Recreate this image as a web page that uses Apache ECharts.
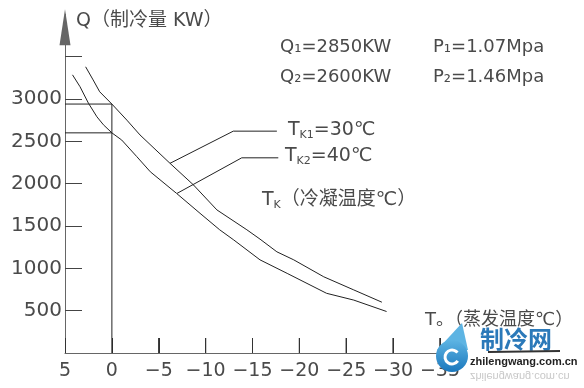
<!DOCTYPE html>
<html><head><meta charset="utf-8">
<script src="https://cdn.jsdelivr.net/npm/echarts@6/dist/echarts.min.js"></script>
<style>html,body{margin:0;padding:0;background:#fff}#c{width:584px;height:388px}</style>
</head><body><div id="c"></div>
<script>
// Evaporating temperature (°C) vs cooling capacity Q (KW)
const curveTk1 = [[2.8,3380],[2.0,3225],[1.3,3085],[0,2940],[-1.6,2750],[-3,2575],[-6.2,2240],[-8.7,1985],[-11.2,1690],[-14.4,1455],[-15.8,1345],[-17.6,1195],[-19.4,1100],[-22.6,900],[-25.8,745],[-28.8,600]];
const curveTk2 = [[4.2,3285],[3.4,3145],[2.5,2950],[1.6,2790],[0.9,2695],[0,2600],[-1.05,2515],[-2.65,2320],[-4.1,2140],[-6.9,1885],[-9.4,1650],[-11.5,1455],[-13,1335],[-15.8,1100],[-18.7,940],[-22.9,705],[-25.8,625],[-29.3,490]];
const refQ1 = [[5,2940],[0,2940],[0,0]];
const refQ2 = [[5,2600],[0,2600]];
const leaderTk1 = [[-6.2,2240],[-12.95,2620],[-17.6,2620]];
const leaderTk2 = [[-6.95,1885],[-13.85,2305],[-17.75,2305]];
const xTickValues = [-5,-10,-15,-20,-25,-30,-35];
const xLabelValues = [5,0,-5,-10,-15,-20,-25,-30,-35];
const yTickValues = [500,1000,1500,2000,2500,3000,3500];
const yLabelValues = [500,1000,1500,2000,2500,3000];

const FF = 'DejaVu Sans, Noto Sans CJK SC, sans-serif';
const TXT = '#4a4a4a';
const chart = echarts.init(document.getElementById('c'), null, {renderer:'canvas'});
// the temperature axis runs from +5 on the left to -35 on the right: plotted as -T
const flip = (pts) => pts.map(p => [-p[0], p[1]]);
const lineSeries = (data, color) => ({type:'line', data:flip(data), symbol:'none', showSymbol:false, silent:true,
  lineStyle:{color:color || '#222', width:1}, animation:false});

const tk = (sub, rest) => ({
  text: '{t|T}{s|' + sub + '}{t|' + rest + '}',
  rich: {
    t: {fontSize:19, fontFamily:FF, fill:TXT, lineHeight:22},
    s: {fontSize:11, fontFamily:FF, fill:TXT, lineHeight:15, verticalAlign:'bottom'}
  },
  fill: TXT, align:'left', verticalAlign:'middle', textAlign:'left', textVerticalAlign:'middle'
});

const baseSeries = () => [lineSeries(curveTk1), lineSeries(curveTk2), lineSeries(refQ1), lineSeries(refQ2),
  lineSeries(leaderTk1), lineSeries(leaderTk2)];

chart.setOption({
  animation:false,
  backgroundColor:'#fff',
  grid:{left:65, right:144, top:14.3, bottom:35, containLabel:false, outerBoundsMode:'none'},
  xAxis:{type:'value', min:-5, max:35, interval:5,
    axisLine:{show:true, onZero:false, lineStyle:{color:'#666', width:1}},
    axisTick:{show:true, inside:true, length:15, lineStyle:{color:'#333', width:1}},
    axisLabel:{customValues:xLabelValues.map(v => -v), margin:9, fontSize:19, fontFamily:FF, color:TXT,
      formatter:v => v > 0 ? '−' + v : String(-v)},
    splitLine:{show:false}},
  yAxis:{type:'value', min:0, max:4000, interval:500,
    axisLine:{show:true, onZero:false, lineStyle:{color:'#666', width:1},
      symbol:['none','triangle'], symbolSize:[11,36], symbolOffset:[0,-13]},
    axisTick:{show:true, inside:true, length:17, customValues:yTickValues, lineStyle:{color:'#444'}},
    axisLabel:{customValues:yLabelValues, margin:3, fontSize:20, fontFamily:FF, color:TXT,
      formatter:v => String(v)},
    splitLine:{show:false}},
  series:baseSeries(),
  graphic:[
    {type:'text', x:76, y:21, style:{text:'Q（制冷量 KW）', fontSize:19, fontFamily:FF, fill:TXT, verticalAlign:'middle', textVerticalAlign:'middle'}},
    {type:'text', x:280, y:47, style:{text:'Q₁=2850KW', fontSize:18, fontFamily:FF, fill:TXT, verticalAlign:'middle', textVerticalAlign:'middle'}},
    {type:'text', x:433, y:47, style:{text:'P₁=1.07Mpa', fontSize:18, fontFamily:FF, fill:TXT, verticalAlign:'middle', textVerticalAlign:'middle'}},
    {type:'text', x:280, y:77, style:{text:'Q₂=2600KW', fontSize:18, fontFamily:FF, fill:TXT, verticalAlign:'middle', textVerticalAlign:'middle'}},
    {type:'text', x:433, y:77, style:{text:'P₂=1.46Mpa', fontSize:18, fontFamily:FF, fill:TXT, verticalAlign:'middle', textVerticalAlign:'middle'}},
    {type:'text', x:288, y:130, style:tk('K1', '=30℃')},
    {type:'text', x:285, y:156, style:tk('K2', '=40℃')},
    {type:'text', x:262, y:200, style:tk('K', '（冷凝温度℃）')},
    {type:'text', x:425, y:320, style:{text:'T。（蒸发温度℃）', fontSize:18, fontFamily:FF, fill:TXT, verticalAlign:'middle', textVerticalAlign:'middle'}},
    // watermark logo
    {type:'polygon', z:100, shape:{points:[[462,323],[437,350],[468,350]]}, style:{fill:'#5db4e3'}},
    {type:'circle', z:100, shape:{cx:452, cy:356, r:16},
      style:{fill:new echarts.graphic.LinearGradient(0,0,0,1,[{offset:0,color:'#5db4e3'},{offset:1,color:'#1b78bd'}])}},
    {type:'arc', z:101, shape:{cx:452, cy:357, r:7, startAngle:0.6, endAngle:5.6}, style:{stroke:'#fff', lineWidth:3, fill:null}},
    {type:'text', z:101, x:480, y:339, style:{text:'制冷网', fontSize:24, fontWeight:'bold', fontFamily:'Noto Sans CJK SC', fill:'#2b79b9', verticalAlign:'middle', textVerticalAlign:'middle'}},
    {type:'line', z:101, shape:{x1:488, y1:352, x2:560, y2:351}, style:{stroke:'#333', lineWidth:2}},
    {type:'text', z:101, x:470, y:362, style:{text:'zhilengwang.com.cn', fontSize:11, fontWeight:'bold', fontFamily:'Liberation Sans', fill:'#222', verticalAlign:'middle', textVerticalAlign:'middle'}},
    {type:'text', z:100, x:470, y:376, scaleY:-1, style:{text:'zhilengwang.com.cn', fontSize:11, fontFamily:'Liberation Sans', fill:'#c8c8c8', verticalAlign:'middle', textVerticalAlign:'middle'}}
  ]
});

// x-axis tick marks pointing up from the axis, 15 px long, placed through the axis scale
const y0px = chart.convertToPixel({yAxisIndex:0}, 0);
const tickTop = chart.convertFromPixel({yAxisIndex:0}, y0px - 15);
const tickSeries = xTickValues.map(v => lineSeries([[v, 0], [v, tickTop]], '#333'));
const tickBars = {type:'bar', data:xTickValues.map(v => [-v, tickTop]), barWidth:1, barGap:'-100%',
  itemStyle:{color:'#333'}, silent:true, animation:false, z:5};
chart.setOption({series:baseSeries().concat(tickSeries, [tickBars])});
</script></body></html>
